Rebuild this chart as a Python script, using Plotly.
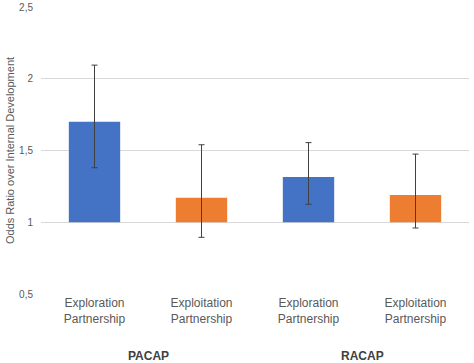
import plotly.graph_objects as go

categories = ["Exploration<br>Partnership", "Exploitation<br>Partnership",
              "Exploration<br>Partnership", "Exploitation<br>Partnership"]
groups = ["PACAP", "RACAP"]
odds = [1.70, 1.17, 1.315, 1.19]
ci_high = [2.095, 1.54, 1.555, 1.475]
ci_low = [1.38, 0.895, 1.125, 0.96]
colors = ["#4472C4", "#ED7D31", "#4472C4", "#ED7D31"]
baseline = 1.0
y_ticks = [0.5, 1, 1.5, 2, 2.5]

x_pos = list(range(len(categories)))

fig = go.Figure()
fig.add_trace(go.Bar(
    x=x_pos,
    y=[v - baseline for v in odds],
    base=baseline,
    marker=dict(color=colors, line=dict(width=0)),
    width=0.48,
    error_y=dict(
        type="data", symmetric=False,
        array=[h - v for h, v in zip(ci_high, odds)],
        arrayminus=[v - l for v, l in zip(odds, ci_low)],
        color="#404040", thickness=1, width=3,
    ),
    showlegend=False,
    hoverinfo="skip",
))

for i, g in enumerate(groups):
    fig.add_annotation(
        x=2 * i + 0.5, xref="x", y=-0.215, yref="paper",
        text="<b>" + g + "</b>", showarrow=False,
        font=dict(size=12, color="#404040", family="Liberation Sans, Arial, sans-serif"),
        yanchor="middle",
    )

fig.update_layout(
    width=474, height=363,
    margin=dict(l=41, r=5, t=7, b=69, autoexpand=False),
    paper_bgcolor="white", plot_bgcolor="white",
    separators=",.",
    font=dict(family="Liberation Sans, Arial, sans-serif", color="#595959", size=11),
    xaxis=dict(
        tickvals=x_pos, ticktext=categories, range=[-0.5, 3.5],
        showgrid=False, zeroline=False, showline=False, ticks="",
        tickfont=dict(size=12, color="#595959"), automargin=False,
    ),
    yaxis=dict(
        range=[0.5, 2.5], tickvals=y_ticks, showgrid=True, gridcolor="#d9d9d9",
        gridwidth=1, zeroline=False, showline=False, ticks="",
        tickfont=dict(size=10, color="#595959"), automargin=False,
        ticklabelstandoff=7,
        title=dict(text="Odds Ratio over Internal Development",
                   font=dict(size=11, color="#595959"), standoff=2),
    ),
    bargap=0.5,
)

fig.write_html("out.html", config={"displayModeBar": False},
               post_script="document.body.style.margin='0';document.body.style.padding='0';")
